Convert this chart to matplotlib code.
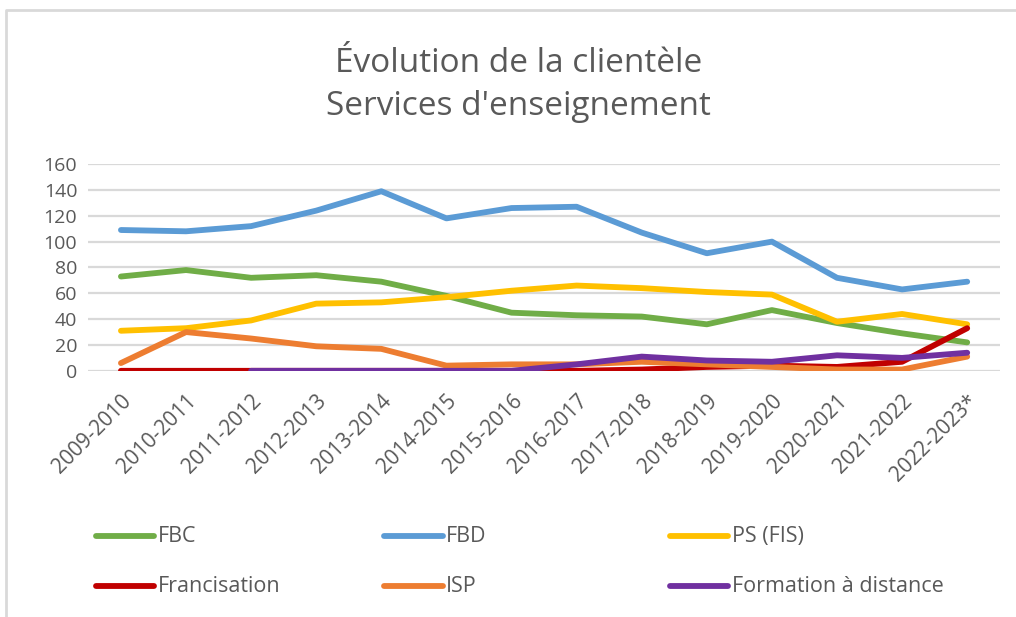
import matplotlib.pyplot as plt
import numpy as np
from matplotlib.lines import Line2D

plt.rcParams['font.family'] = ['Open Sans', 'DejaVu Sans']

years = ['2009-2010', '2010-2011', '2011-2012', '2012-2013', '2013-2014',
         '2014-2015', '2015-2016', '2016-2017', '2017-2018', '2018-2019',
         '2019-2020', '2020-2021', '2021-2022', '2022-2023*']

fbc = [73, 78, 72, 74, 69, 58, 45, 43, 42, 36, 47, 37, 29, 22]
fbd = [109, 108, 112, 124, 139, 118, 126, 127, 107, 91, 100, 72, 63, 69]
ps_fis = [31, 33, 39, 52, 53, 57, 62, 66, 64, 61, 59, 38, 44, 36]
francisation = [0, 0, 0, 0, 0, 0, 0, 0, 1, 3, 4, 3, 7, 33]
isp = [6, 30, 25, 19, 17, 4, 5, 5, 7, 5, 3, 1, 1, 11]
fad = [np.nan, np.nan, 0, 0, 0, 0, 0, 5, 11, 8, 7, 12, 10, 14]

series = [('FBC', fbc, '#70ad47'), ('FBD', fbd, '#5b9bd5'),
          ('PS (FIS)', ps_fis, '#ffc000'), ('Francisation', francisation, '#c00000'),
          ('ISP', isp, '#ed7d31'), ('Formation à distance', fad, '#7030a0')]

grey = '#595959'
fig = plt.figure(figsize=(10.16, 6.17), dpi=100)
ax = fig.add_axes([0.087, 0.399, 0.897, 0.335])

x = np.arange(len(years))
for name, vals, col in series:
    ax.plot(x, vals, color=col, lw=4.2, solid_capstyle='round',
            solid_joinstyle='round', label=name)

ax.set_xlim(-0.5, len(years) - 0.5)
ax.set_ylim(0, 160)
ax.set_yticks(range(0, 161, 20))
ax.grid(axis='y', color='#d9d9d9', lw=1.6)
ax.set_axisbelow(True)
for s in ax.spines.values():
    s.set_visible(False)
ax.tick_params(length=0, colors=grey, labelsize=14)
ax.tick_params(axis='y', pad=8)
ax.set_xticks(x)
ax.set_xticklabels(years, rotation=45, ha='right', rotation_mode='anchor', fontsize=15)
ax.tick_params(axis='x', pad=14)

fig.text(0.51, 0.883, 'Évolution de la clientèle', ha='center', va='baseline',
         fontsize=24, color=grey)
fig.text(0.51, 0.814, "Services d'enseignement", ha='center', va='baseline',
         fontsize=24, color=grey)

# legend, 3 columns x 2 rows
cols_x = [0.094, 0.378, 0.659]
rows_y = [0.131, 0.05]
for i, (name, vals, col) in enumerate(series):
    cx = cols_x[i % 3]
    cy = rows_y[i // 3]
    fig.add_artist(Line2D([cx, cx + 0.058], [cy, cy], color=col, lw=4.2,
                          solid_capstyle='round', transform=fig.transFigure))
    fig.text(cx + 0.061, cy, name, ha='left', va='center', fontsize=15.5, color=grey)

# chart border
fig.add_artist(Line2D([0.006, 0.006, 1.0], [0.0, 0.984, 0.984], color='#d9d9d9',
                      lw=2, transform=fig.transFigure))

fig.savefig('out.png', dpi=100)
